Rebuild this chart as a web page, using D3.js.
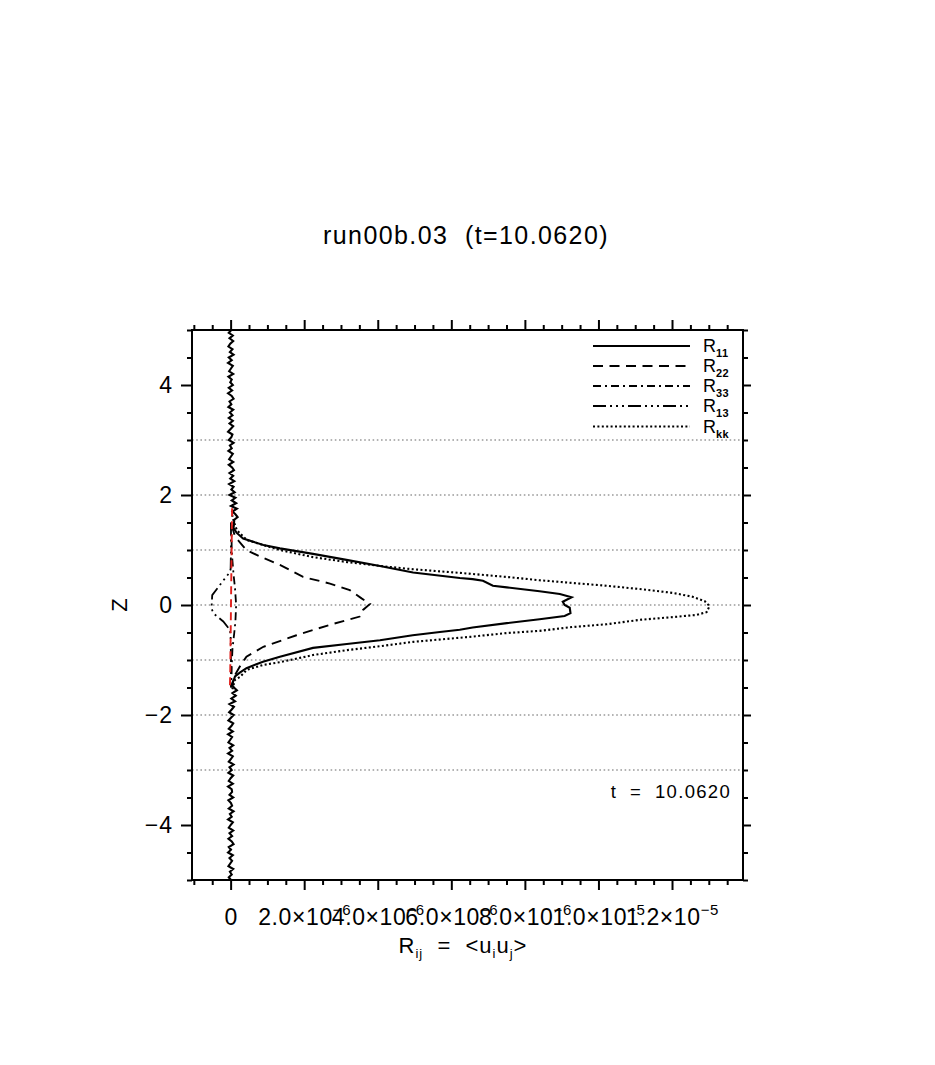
<!DOCTYPE html>
<html><head><meta charset="utf-8">
<script src="https://cdn.jsdelivr.net/npm/d3@7"></script>
<style>
body{margin:0;background:#fff}
svg{font-family:"Liberation Sans",Arial,Helvetica,sans-serif}
</style>
</head><body>
<svg id="c" width="935" height="1065"></svg>
<script>
// ---- text ----
const titleText = "run00b.03  (t=10.0620)";
const timeLabel = "t  =  10.0620";
const yTitle = "Z";

// ---- axis ticks (x values in units of 1e-6) ----
const xMajorTicks = [0, 2, 4, 6, 8, 10, 12];
const xTickMantissa = ["0", "2.0", "4.0", "6.0", "8.0", "1.0", "1.2"];
const xTickExponent = ["", "−6", "−6", "−6", "−6", "−5", "−5"];
const yMajorTicks = [-4, -2, 0, 2, 4];
const yTickLabels = ["−4", "−2", "0", "2", "4"];
const gridLevels = [-3, -2, -1, 0, 1, 2, 3];

// ---- legend ----
const seriesNames = ["R11", "R22", "R33", "R13", "Rkk"];
const seriesSubs = ["11", "22", "33", "13", "kk"];

// ---- data: z positions and values (units of 1e-6) ----
const r11Z = [1.40,1.315,1.21,1.09,1.03,0.93,0.82,0.71,0.59,0.49,0.47,0.44,0.35,0.32,0.25,0.20,0.14,0.06,0.00,-0.05,-0.15,-0.20,-0.26,-0.33,-0.41,-0.45,-0.49,-0.55,-0.64,-0.71,-0.78,-0.94,-1.03,-1.15,-1.23,-1.30,-1.45];
const r11V = [0.08,0.16,0.34,0.89,1.34,2.24,3.15,4.06,4.96,6.23,6.58,6.86,7.13,7.51,8.40,8.95,9.27,9.03,9.08,9.22,9.24,9.08,8.40,7.51,6.58,6.23,5.69,4.95,4.06,3.16,2.24,1.34,0.88,0.43,0.25,0.12,0.04];

// noisy near-zero part of R11 above the layer (z = 5.00 down to 1.55, step 0.05)
const r11UpperNoise = [0.02,-0.05,0.06,-0.03,0.07,-0.01,-0.06,0.05,-0.02,0.08,
 -0.05,0.03,-0.07,0.06,0.01,-0.04,0.07,-0.06,0.03,-0.01,
 0.06,-0.05,0.04,-0.07,0.03,0.08,-0.03,0.02,-0.06,0.07,
 -0.02,0.05,-0.05,0.06,-0.03,0.07,0.00,-0.07,0.05,0.02,
 -0.05,0.08,-0.02,0.03,-0.06,0.06,0.01,-0.04,0.07,-0.05,
 0.04,0.09,-0.03,0.07,-0.01,0.10,-0.04,0.08,0.02,0.11,
 -0.03,0.13,0.03,0.15,0.01,0.17,0.05,0.13,0.19,0.10];
// noisy near-zero part of R11 below the layer (z = -1.50 down to -5.00, step 0.05)
const r11LowerNoise = [0.09,0.17,0.05,0.14,0.02,0.12,-0.03,0.09,0.03,-0.04,
 0.08,0.01,-0.06,0.07,0.02,-0.05,0.06,-0.07,0.04,-0.01,
 -0.06,0.07,-0.03,0.04,-0.07,0.06,0.01,-0.05,0.08,-0.03,
 0.03,-0.06,0.07,0.00,-0.05,0.06,-0.07,0.03,0.04,-0.03,
 0.07,-0.06,0.01,0.04,-0.05,0.08,-0.02,0.03,-0.07,0.06,
 0.00,-0.05,0.07,-0.03,0.04,-0.06,0.03,0.08,-0.05,0.01,
 -0.07,0.06,-0.03,0.04,-0.01,-0.06,0.07,-0.02,0.03,-0.05,0.01];

const r22Z = [1.45,1.24,1.00,0.88,0.73,0.51,0.39,0.27,0.12,0.02,-0.09,-0.21,-0.36,-0.55,-0.76,-0.94,-1.12,-1.27,-1.45];
const r22V = [0.03,0.12,0.43,0.80,1.34,1.97,2.70,3.24,3.56,3.79,3.60,3.51,2.70,1.79,0.89,0.43,0.25,0.12,0.03];

const r33Z = [1.50,1.00,0.80,0.55,0.30,0.00,-0.30,-0.50,-0.80,-1.10,-1.50];
const r33V = [0.02,0.03,0.05,0.08,0.12,0.15,0.13,0.10,0.05,0.03,0.02];

const r13Z = [1.50,1.00,0.65,0.58,0.47,0.18,-0.06,-0.15,-0.30,-0.45,-0.55,-1.00,-1.50];
const r13V = [0.01,0.01,0.00,-0.04,-0.17,-0.50,-0.52,-0.47,-0.20,-0.02,0.00,0.01,0.01];

const rkkZ = [1.64,1.51,1.36,1.18,1.00,0.87,0.78,0.71,0.65,0.58,0.51,0.45,0.40,0.35,0.29,0.22,0.15,0.07,-0.02,-0.13,-0.18,-0.22,-0.27,-0.35,-0.40,-0.47,-0.51,-0.58,-0.67,-0.75,-0.82,-0.91,-1.04,-1.09,-1.18,-1.31,-1.36,-1.55];
const rkkV = [0.04,0.09,0.17,0.44,1.34,2.24,3.17,4.06,4.96,6.30,7.51,8.40,9.30,10.22,11.12,12.02,12.56,12.89,13.02,12.94,12.67,12.02,11.12,10.22,9.30,8.40,7.51,6.50,4.96,4.06,3.17,2.24,1.34,0.88,0.44,0.25,0.12,0.04];

// red dashed near-zero profile
const redZ = [1.76,1.20,0.60,0.00,-0.60,-1.20,-1.51];
const redV = [0.04,0.03,0.02,0.01,0.00,-0.01,-0.02];

// ---- drawing ----
const svg = d3.select("#c");
const L = 192, R = 743, T = 330, B = 880;
const x = d3.scaleLinear().domain([-1.05, 13.93]).range([L, R]);
const y = d3.scaleLinear().domain([-5, 5]).range([B, T]);
const FONT = '"Liberation Sans",Arial,Helvetica,sans-serif';

// grid
svg.append("g").selectAll("line").data(gridLevels).join("line")
  .attr("x1", L).attr("x2", R)
  .attr("y1", d => y(d)).attr("y2", d => y(d))
  .attr("stroke", "#9a9a9a").attr("stroke-width", 1.6)
  .attr("stroke-dasharray", "1.6,2.6");

const pairs = (zs, vs) => zs.map((z, i) => [vs[i], z]);
const line = d3.line().x(d => x(d[0])).y(d => y(d[1]));

const upperZ = d3.range(r11UpperNoise.length).map(i => 5 - i * 0.05);
const lowerZ = d3.range(r11LowerNoise.length).map(i => -1.5 - i * 0.05);
const r11Data = pairs(upperZ, r11UpperNoise).concat(pairs(r11Z, r11V), pairs(lowerZ, r11LowerNoise));

const styles = {
  R11: {dash: null},
  R22: {dash: "10,6.5"},
  R33: {dash: "8,4,2,4"},
  R13: {dash: "13,4,2,4,2,4,2,4"},
  Rkk: {dash: "2,2.4"}
};

const gCurves = svg.append("g").attr("fill", "none").attr("stroke", "#000");
gCurves.append("path").datum(pairs(r33Z, r33V)).attr("d", line)
  .attr("stroke-width", 1.8).attr("stroke-dasharray", styles.R33.dash);
gCurves.append("path").datum(pairs(r13Z, r13V)).attr("d", line)
  .attr("stroke-width", 1.8).attr("stroke-dasharray", styles.R13.dash);
gCurves.append("path").datum(pairs(r22Z, r22V)).attr("d", line)
  .attr("stroke-width", 1.9).attr("stroke-dasharray", styles.R22.dash);
gCurves.append("path").datum(pairs(rkkZ, rkkV)).attr("d", line)
  .attr("stroke-width", 2.1).attr("stroke-dasharray", styles.Rkk.dash);
gCurves.append("path").datum(r11Data).attr("d", line)
  .attr("stroke-width", 2.1).attr("stroke-linejoin", "miter");
svg.append("path").datum(pairs(redZ, redV)).attr("d", line)
  .attr("fill", "none").attr("stroke", "#e0201c").attr("stroke-width", 1.9)
  .attr("stroke-dasharray", "8,5");

// axes
const xMinor = d3.range(-1, 13.9, 0.5).filter(v => !xMajorTicks.includes(v));
const yMinor = d3.range(-5, 5.01, 0.5).filter(v => !yMajorTicks.includes(v));
function axis(fn, scale, vals, size, tr) {
  const g = svg.append("g").attr("transform", tr)
    .call(fn(scale).tickValues(vals).tickSize(size).tickSizeOuter(0).tickFormat(""));
  g.select(".domain").remove();
  g.selectAll(".tick line").attr("stroke", "#000").attr("stroke-width", 2);
  return g;
}
axis(d3.axisBottom, x, xMinor, 5, `translate(0,${B})`);
axis(d3.axisTop, x, xMinor, 5, `translate(0,${T})`);
axis(d3.axisTop, x, xMajorTicks, 10, `translate(0,${T})`);
axis(d3.axisLeft, y, yMinor, 5, `translate(${L},0)`);
axis(d3.axisRight, y, yMinor, 5, `translate(${R},0)`);
axis(d3.axisRight, y, yMajorTicks, 8, `translate(${R},0)`);

// bottom major with labels
const gxb = svg.append("g").attr("transform", `translate(0,${B})`)
  .call(d3.axisBottom(x).tickValues(xMajorTicks).tickSize(10).tickSizeOuter(0)
    .tickFormat((d, i) => xTickMantissa[i]));
gxb.select(".domain").remove();
gxb.selectAll(".tick line").attr("stroke", "#000").attr("stroke-width", 2);
gxb.attr("font-family", FONT).attr("font-size", 23);
gxb.selectAll(".tick text").each(function(d, i) {
  const t = d3.select(this);
  t.text(null).attr("y", 45).attr("dy", 0).attr("fill", "#000")
    .style("letter-spacing", "0.6px");
  t.append("tspan").text(xTickMantissa[i] + (xTickExponent[i] ? "×10" : ""));
  if (xTickExponent[i]) {
    t.append("tspan").attr("dy", -10).attr("font-size", 15).text(xTickExponent[i]);
  }
});

// left major with labels
const gyl = svg.append("g").attr("transform", `translate(${L},0)`)
  .call(d3.axisLeft(y).tickValues(yMajorTicks).tickSize(11).tickSizeOuter(0).tickPadding(8)
    .tickFormat((d, i) => yTickLabels[i]));
gyl.select(".domain").remove();
gyl.selectAll(".tick line").attr("stroke", "#000").attr("stroke-width", 2);
gyl.attr("font-family", FONT).attr("font-size", 23);
gyl.selectAll(".tick text").attr("fill", "#000").style("letter-spacing", "1px");

// frame
svg.append("rect").attr("x", L).attr("y", T).attr("width", R - L).attr("height", B - T)
  .attr("fill", "none").attr("stroke", "#000").attr("stroke-width", 2);

// title
svg.append("text").attr("x", 466).attr("y", 244).attr("text-anchor", "middle")
  .attr("font-size", 25).style("letter-spacing", "1.4px").style("white-space", "pre")
  .attr("fill", "#000").text(titleText);

// time label
svg.append("text").attr("x", 731).attr("y", 798).attr("text-anchor", "end")
  .attr("font-size", 18.5).style("letter-spacing", "1.3px").style("white-space", "pre")
  .attr("fill", "#000").text(timeLabel);

// x axis title R_ij = <u_i u_j>
const xt = svg.append("text").attr("x", 463).attr("y", 953).attr("text-anchor", "middle")
  .attr("font-size", 22).style("letter-spacing", "1px").style("white-space", "pre").attr("fill", "#000");
xt.append("tspan").text("R");
xt.append("tspan").attr("font-size", 13).attr("dy", 5).text("ij");
xt.append("tspan").attr("dy", -5).text("  =  <u");
xt.append("tspan").attr("font-size", 13).attr("dy", 5).text("i");
xt.append("tspan").attr("dy", -5).text("u");
xt.append("tspan").attr("font-size", 13).attr("dy", 5).text("j");
xt.append("tspan").attr("dy", -5).text(">");

// y axis title
svg.append("text").attr("transform", "translate(127,605) rotate(-90)")
  .attr("text-anchor", "middle").attr("font-size", 22).attr("fill", "#000").text(yTitle);

// legend
const legY = [346, 366, 386, 406, 426.5];
const lg = svg.append("g");
seriesNames.forEach((name, i) => {
  const yy = legY[i];
  const ln = lg.append("line").attr("x1", 593).attr("x2", 690).attr("y1", yy).attr("y2", yy)
    .attr("stroke", "#000").attr("stroke-width", name === "Rkk" ? 2.1 : 2);
  if (styles[name].dash) ln.attr("stroke-dasharray", styles[name].dash);
  const t = lg.append("text").attr("x", 703).attr("y", yy + 6).attr("font-size", 18).attr("fill", "#000");
  t.append("tspan").text("R");
  t.append("tspan").attr("dy", 5).attr("font-size", 11).attr("font-weight", "bold")
    .style("letter-spacing", "0.5px").text(seriesSubs[i]);
});
</script>
</body></html>
